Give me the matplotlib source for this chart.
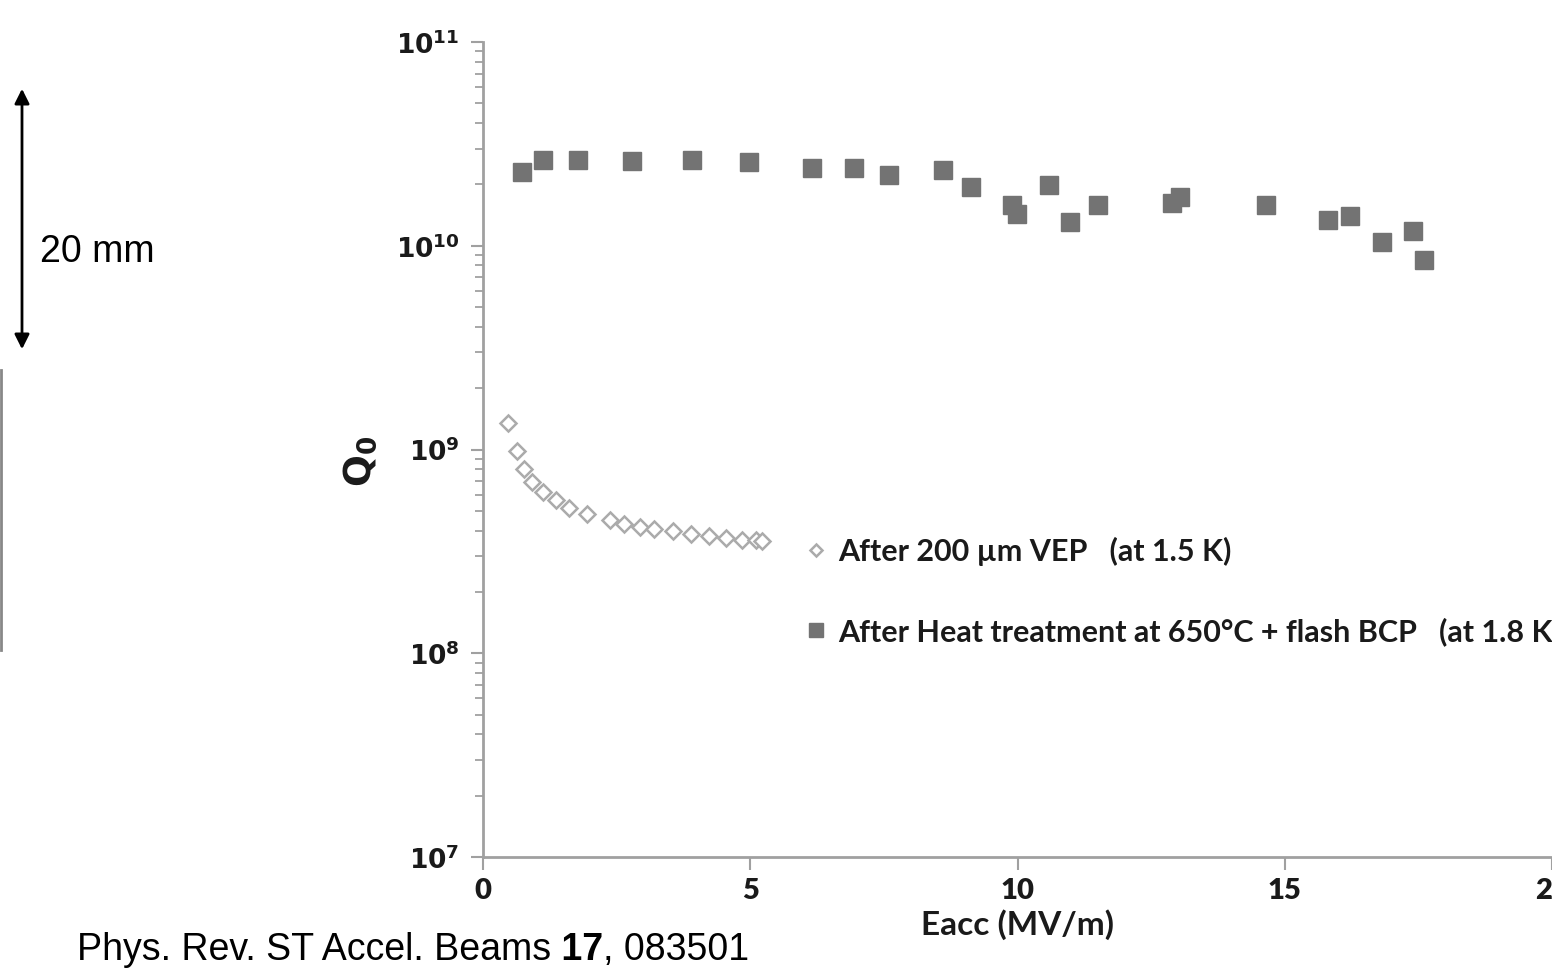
import numpy as np
import matplotlib.pyplot as plt
from matplotlib.ticker import FixedLocator, LogLocator, NullFormatter
from matplotlib.lines import Line2D
from matplotlib.patches import FancyArrowPatch

plt.rcParams['font.family'] = ['Lato', 'DejaVu Sans']

# After 200 um VEP (at 1.5 K)
vep_e = [0.47, 0.64, 0.77, 0.92, 1.13, 1.36, 1.61, 1.95, 2.38, 2.64, 2.93,
         3.20, 3.55, 3.89, 4.22, 4.55, 4.84, 5.11, 5.22]
vep_q = [1.35e9, 9.8e8, 8.0e8, 6.95e8, 6.2e8, 5.65e8, 5.15e8, 4.8e8, 4.5e8,
         4.3e8, 4.15e8, 4.05e8, 4.0e8, 3.85e8, 3.75e8, 3.66e8, 3.6e8, 3.58e8, 3.55e8]

# After heat treatment at 650 C + flash BCP (at 1.8 K)
ht_e = [0.73, 1.12, 1.78, 2.79, 3.91, 4.98, 6.16, 6.94, 7.60, 8.61, 9.13,
        9.90, 9.99, 10.59, 10.98, 11.51, 12.89, 13.04, 14.65, 15.81, 16.22,
        16.82, 17.40, 17.61]
ht_q = [2.30e10, 2.64e10, 2.64e10, 2.61e10, 2.64e10, 2.58e10, 2.41e10, 2.41e10,
        2.22e10, 2.36e10, 1.94e10, 1.58e10, 1.43e10, 1.99e10, 1.31e10, 1.58e10,
        1.62e10, 1.73e10, 1.58e10, 1.34e10, 1.40e10, 1.04e10, 1.18e10, 8.5e9]

vep_label = "After 200 \u00b5m VEP   (at 1.5 K)"
ht_label = "After Heat treatment at 650\u00b0C + flash BCP   (at 1.8 K)"

xticks = [0, 5, 10, 15, 20]
yticks = [1e7, 1e8, 1e9, 1e10, 1e11]
ytick_labels = [r'$\mathbf{10^{7}}$', r'$\mathbf{10^{8}}$', r'$\mathbf{10^{9}}$',
                r'$\mathbf{10^{10}}$', r'$\mathbf{10^{11}}$']

fig = plt.figure(figsize=(15.52, 9.68), dpi=100)
ax = fig.add_axes([483 / 1552, 1 - 857 / 968, 1 - 483 / 1552, (857 - 42) / 968])

ax.plot(vep_e, vep_q, linestyle='none', marker='D', markersize=8.5,
        markerfacecolor='white', markeredgecolor='#ababab', markeredgewidth=1.8,
        label=vep_label)
ax.plot(ht_e, ht_q, linestyle='none', marker='s', markersize=12.5,
        markerfacecolor='#737373', markeredgecolor='#737373', label=ht_label)

ax.set_yscale('log')
ax.set_ylim(1e7, 1e11)
ax.set_xlim(0, 20)
ax.xaxis.set_major_locator(FixedLocator(xticks))
ax.yaxis.set_major_locator(FixedLocator(yticks))
ax.yaxis.set_minor_locator(LogLocator(base=10, subs=np.arange(2, 10)))
ax.yaxis.set_minor_formatter(NullFormatter())
ax.set_yticklabels(ytick_labels)

for s in ['top', 'right']:
    ax.spines[s].set_visible(False)
for s in ['left', 'bottom']:
    ax.spines[s].set_color('#a0a0a0')
    ax.spines[s].set_linewidth(2)

ax.tick_params(axis='both', which='major', direction='out', length=9, width=1.5,
               color='#a0a0a0', labelcolor='#1a1a1a')
ax.tick_params(axis='y', which='minor', direction='out', length=6, width=1.3,
               color='#a0a0a0')
ax.tick_params(axis='x', labelsize=21, pad=6)
ax.tick_params(axis='y', labelsize=19, pad=8)
for lab in ax.get_xticklabels():
    lab.set_fontweight('heavy')
for lab in ax.get_yticklabels():
    lab.set_math_fontfamily('dejavusans')

ax.set_xlabel("Eacc (MV/m)", fontsize=24, fontweight='bold', color='#1a1a1a', labelpad=4)
ax.set_ylabel(r"Q$_\mathbf{0}$", fontsize=27, fontweight='bold', color='#1a1a1a',
              family='DejaVu Sans', math_fontfamily='dejavusans')
ax.yaxis.set_label_coords(-0.097, 0.485)

leg = ax.legend(loc='center left', bbox_to_anchor=(0.2975, 0.326), frameon=False,
                borderpad=0, borderaxespad=0, handletextpad=0.23,
                labelspacing=1.68, handlelength=1.0, markerscale=0.75,
                prop={'weight': 'bold', 'size': 22})
for t in leg.get_texts():
    t.set_color('#1a1a1a')

# scale bar annotation on the left
fig.patches.append(FancyArrowPatch(
    (22 / 1552, 1 - 86 / 968), (22 / 1552, 1 - 352 / 968), transform=fig.transFigure,
    arrowstyle='<|-|>', mutation_scale=22, color='black', linewidth=2))
fig.text(40 / 1552, 1 - 252 / 968, "20 mm", fontsize=27, family='Liberation Sans',
         ha='left', va='center')
fig.lines.append(Line2D([0.6 / 1552, 0.6 / 1552], [1 - 370 / 968, 1 - 650 / 968],
                        transform=fig.transFigure, color='#888888', linewidth=2))

# citation line
t1 = fig.text(77 / 1552, 1 - 968 / 968, "Phys. Rev. ST Accel. Beams", fontsize=27,
              family='Liberation Sans', ha='left', va='bottom')
t2 = fig.text(0, 0, " 17", fontsize=27, family='Liberation Sans', fontweight='bold',
              ha='left', va='bottom')
t3 = fig.text(0, 0, ", 083501", fontsize=27, family='Liberation Sans',
              ha='left', va='bottom')
fig.canvas.draw()
r = fig.canvas.get_renderer()
b1 = t1.get_window_extent(r)
t2.set_position((b1.x1 / fig.bbox.width, b1.y0 / fig.bbox.height))
b2 = t2.get_window_extent(r)
t3.set_position((b2.x1 / fig.bbox.width, b1.y0 / fig.bbox.height))

fig.savefig('out.png', dpi=100)
